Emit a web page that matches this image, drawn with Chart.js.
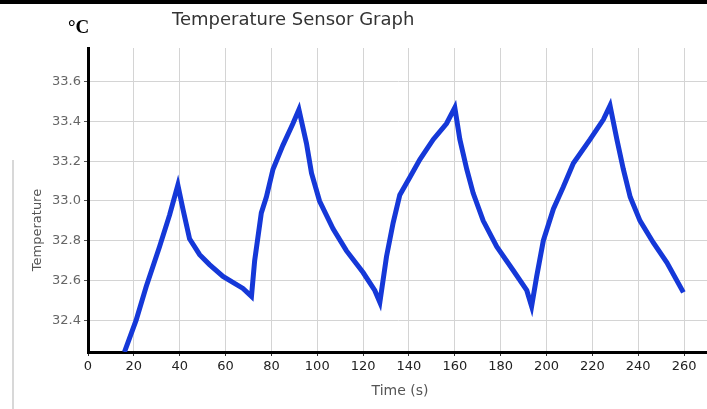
<!DOCTYPE html>
<html>

<head>
    <script src="https://cdn.jsdelivr.net/npm/chart.js@4.4.2/dist/chart.umd.min.js"></script>
    <style>
        html, body { margin: 0; padding: 0; background: #fff; }
    </style>
</head>

<body>
    <div style="position:relative; width:707px; height:409px">
        <canvas id="chart"></canvas>
    </div>
</body>
<script>
    // time (s) and temperature readings
    const times = [15.9, 21, 25.4, 31.2, 35.6, 39.2, 41.4, 44.3, 48.7, 53, 58.9, 63.2, 67.6, 71.3,
        72.7, 75.6, 77.8, 80.7, 85, 89.4, 92, 95.3, 97.5, 101, 106.9, 112.7, 120, 125.1, 127.3,
        130.2, 133.1, 136, 140.4, 144.8, 150.6, 156.4, 160, 162.2, 165.2, 168, 172.4, 178.3, 185.5, 191.4, 193.5,
        195.7, 198.6, 203, 207.3, 211.7, 219, 224.8, 227.7, 230.7, 233.5, 236.5, 240.8, 246.6, 252.5, 259.7];
    const temps = [32.24, 32.40, 32.57, 32.77, 32.93, 33.08, 32.96, 32.81, 32.73, 32.68, 32.62, 32.59, 32.56, 32.52,
        32.70, 32.94, 33.02, 33.16, 33.28, 33.39, 33.46, 33.29, 33.14, 33.00, 32.86, 32.75, 32.64, 32.55, 32.49,
        32.72, 32.89, 33.03, 33.12, 33.21, 33.31, 33.39, 33.47, 33.31, 33.16, 33.04, 32.90, 32.77, 32.65, 32.55, 32.47,
        32.62, 32.80, 32.96, 33.07, 33.19, 33.31, 33.41, 33.48, 33.31, 33.16, 33.02, 32.90, 32.79, 32.69, 32.54];
    const xTicks = [0, 20, 40, 60, 80, 100, 120, 140, 160, 180, 200, 220, 240, 260];
    const yTicks = [32.4, 32.6, 32.8, 33.0, 33.2, 33.4, 33.6];

    const labels = {
        id: 'labels',
        afterDraw(chart) {
            const ctx = chart.ctx;
            ctx.save();
            // top border strip and faint left line
            ctx.fillStyle = '#000';
            ctx.fillRect(0, 0, 707, 4);
            ctx.strokeStyle = '#d8d8d8';
            ctx.lineWidth = 2;
            ctx.beginPath();
            ctx.moveTo(13, 160);
            ctx.lineTo(13, 409);
            ctx.stroke();

            ctx.textBaseline = 'middle';
            ctx.fillStyle = '#333';
            ctx.font = '18px "DejaVu Sans"';
            ctx.textAlign = 'left';
            ctx.fillText('Temperature Sensor Graph', 172, 20);

            ctx.fillStyle = '#000';
            ctx.font = 'bold 19px "Liberation Serif"';
            ctx.fillText('°C', 68, 28);

            ctx.fillStyle = '#555';
            ctx.font = '14px "DejaVu Sans"';
            ctx.textAlign = 'center';
            ctx.fillText('Time (s)', 400, 391);

            ctx.translate(38, 230);
            ctx.rotate(-Math.PI / 2);
            ctx.font = '13px "DejaVu Sans"';
            ctx.fillText('Temperature', 0, 0);
            ctx.restore();
        }
    };

    const canvas = document.getElementById('chart');

    const config = {
        type: 'line',
        data: {
            datasets: [
                {
                    label: 'Temperature',
                    data: times.map((t, i) => ({ x: t, y: temps[i] })),
                    borderColor: '#1538d8',
                    backgroundColor: '#1538d8',
                    borderWidth: 5,
                    pointRadius: 0,
                    tension: 0
                }
            ]
        },
        plugins: [labels],
        options: {
            responsive: true,
            maintainAspectRatio: false,
            animation: false,
            layout: {
                padding: { top: 48, left: 0, right: 0, bottom: 0 }
            },
            plugins: {
                legend: { display: false },
                tooltip: { enabled: false }
            },
            scales: {
                x: {
                    type: 'linear',
                    min: 0,
                    max: 270,
                    afterBuildTicks: (s) => { s.ticks = xTicks.map(v => ({ value: v })); },
                    afterFit: (s) => { s.height = 57; },
                    border: { color: '#000', width: 3 },
                    grid: { color: '#d4d4d4', tickColor: '#333', tickLength: 4 },
                    ticks: {
                        color: '#222',
                        font: { family: 'DejaVu Sans', size: 13 },
                        padding: 3,
                        maxRotation: 0
                    }
                },
                y: {
                    min: 32.24,
                    max: 33.77,
                    afterBuildTicks: (s) => { s.ticks = yTicks.map(v => ({ value: v })); },
                    afterFit: (s) => { s.width = 88; },
                    border: { color: '#000', width: 3 },
                    grid: { color: '#d4d4d4', tickColor: '#555', tickLength: 4 },
                    ticks: {
                        color: '#666',
                        font: { family: 'DejaVu Sans', size: 13 },
                        padding: 3,
                        callback: (v) => v.toFixed(1)
                    }
                }
            }
        }
    };

    const chart = new Chart(canvas, config);
</script>

</html>
